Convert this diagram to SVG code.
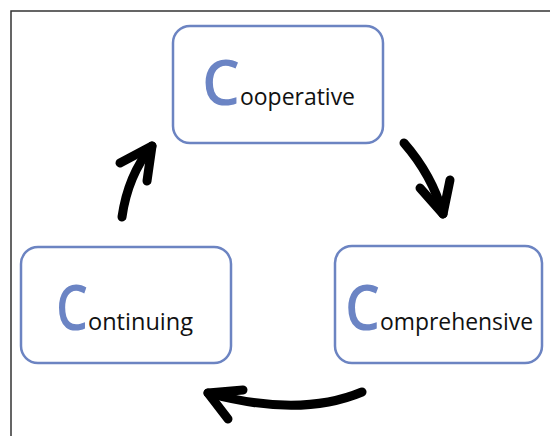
<svg xmlns="http://www.w3.org/2000/svg" width="550" height="436" viewBox="0 0 550 436">
<style>
.box{fill:#fff;stroke:#6c84c2;stroke-width:2.5}
.big{font-family:"Open Sans",Lato,sans-serif;font-size:64px;font-weight:600;fill:#6b84c4}
.lbl{font-family:"Open Sans",Lato,sans-serif;font-size:23px;fill:#111}
.arr{fill:none;stroke:#000;stroke-width:9;stroke-linecap:round;stroke-linejoin:round}
.frame{stroke:#333;stroke-width:1.5;fill:none}
</style>
<rect width="550" height="436" fill="#fff"/>
<path class="frame" d="M11,436 V11 H550"/>
<g id="cooperative">
<rect class="box" x="173" y="26" width="210" height="117" rx="17"/>
<text class="big" x="202" y="105" textLength="38" lengthAdjust="spacingAndGlyphs">C</text>
<text class="lbl" x="240" y="105" textLength="115" lengthAdjust="spacingAndGlyphs">ooperative</text>
</g>
<g id="comprehensive">
<rect class="box" x="335" y="246" width="207" height="117" rx="17"/>
<text class="big" x="345" y="330" textLength="35" lengthAdjust="spacingAndGlyphs">C</text>
<text class="lbl" x="380" y="330" textLength="153" lengthAdjust="spacingAndGlyphs">omprehensive</text>
</g>
<g id="continuing">
<rect class="box" x="21" y="247" width="210" height="116" rx="17"/>
<text class="big" x="56" y="330" textLength="32" lengthAdjust="spacingAndGlyphs">C</text>
<text class="lbl" x="88" y="330" textLength="105" lengthAdjust="spacingAndGlyphs">ontinuing</text>
</g>
<g id="connectors">
<path class="arr" d="M404,143 Q432,175 443,214"/>
<path class="arr" d="M420,188 L443,214 L450,180"/>
<path class="arr" d="M362,392 Q300,418 208,393"/>
<path class="arr" d="M243,390 L208,393 L228,419"/>
<path class="arr" d="M122,217 Q128,175 152,146"/>
<path class="arr" d="M120,163 L152,146 L147,181"/>
</g>
</svg>
